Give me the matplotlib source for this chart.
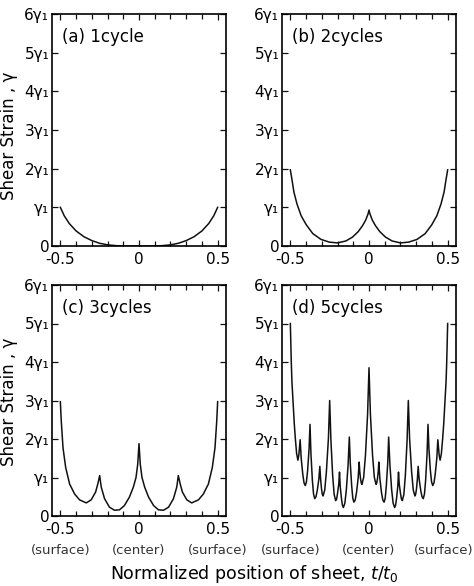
import numpy as np
import matplotlib
matplotlib.use('Agg')
import matplotlib.pyplot as plt
from matplotlib.ticker import FixedLocator, MultipleLocator

# ---- data (t/t0, shear strain in units of gamma_1) ----
t_a = [-0.500, -0.475, -0.443, -0.400, -0.350, -0.300, -0.250, -0.200, -0.150, -0.100, -0.050,
       0.000, 0.050, 0.100, 0.150, 0.200, 0.250, 0.300, 0.350, 0.400, 0.443, 0.475, 0.500]
g_a = [1.00, 0.78, 0.58, 0.39, 0.24, 0.14, 0.07, 0.03, 0.01, 0.00, 0.00,
       0.00, 0.00, 0.00, 0.01, 0.03, 0.07, 0.14, 0.24, 0.39, 0.58, 0.78, 1.00]

t_b = [-0.500, -0.489, -0.477, -0.458, -0.431, -0.399, -0.357, -0.305, -0.252, -0.200, -0.147,
       -0.105, -0.069, -0.042, -0.021, -0.006, 0.000,
       0.006, 0.021, 0.042, 0.069, 0.105, 0.147, 0.200, 0.252, 0.305, 0.357, 0.399,
       0.431, 0.458, 0.477, 0.489, 0.500]
g_b = [1.97, 1.70, 1.39, 1.09, 0.78, 0.55, 0.32, 0.17, 0.10, 0.08, 0.13,
       0.23, 0.37, 0.52, 0.67, 0.83, 0.93,
       0.83, 0.67, 0.52, 0.37, 0.23, 0.13, 0.08, 0.10, 0.17, 0.32, 0.55,
       0.78, 1.09, 1.39, 1.70, 1.97]

t_c = [-0.500, -0.494, -0.483, -0.466, -0.441, -0.409, -0.378, -0.335, -0.304, -0.276, -0.262,
       -0.250, -0.240, -0.219, -0.188, -0.156, -0.124, -0.093, -0.061, -0.036, -0.019, -0.008,
       0.000,
       0.008, 0.019, 0.036, 0.061, 0.093, 0.124, 0.156, 0.188, 0.219, 0.240, 0.250,
       0.262, 0.276, 0.304, 0.335, 0.378, 0.409, 0.441, 0.466, 0.483, 0.494, 0.500]
g_c = [2.97, 2.46, 1.77, 1.26, 0.83, 0.57, 0.42, 0.34, 0.42, 0.62, 0.83,
       1.05, 0.75, 0.45, 0.23, 0.15, 0.16, 0.27, 0.49, 0.75, 1.00, 1.35,
       1.88,
       1.35, 1.00, 0.75, 0.49, 0.27, 0.16, 0.15, 0.23, 0.45, 0.75, 1.05,
       0.83, 0.62, 0.42, 0.34, 0.42, 0.57, 0.83, 1.26, 1.77, 2.46, 2.97]

t_d = [-0.500, -0.494, -0.490, -0.483, -0.475, -0.468, -0.460, -0.452, -0.446, -0.4375,
       -0.431, -0.421, -0.413, -0.405, -0.3975, -0.390, -0.381, -0.375, -0.369, -0.360,
       -0.3525, -0.345, -0.337, -0.329, -0.319, -0.3125, -0.308, -0.302, -0.297, -0.292,
       -0.2815, -0.271, -0.258, -0.250, -0.242, -0.231, -0.2215, -0.212, -0.206, -0.200,
       -0.192, -0.1875, -0.183, -0.175, -0.169, -0.163, -0.1535, -0.144, -0.133, -0.125,
       -0.119, -0.110, -0.103, -0.096, -0.0875, -0.079, -0.069, -0.0625, -0.059, -0.054,
       -0.049, -0.045, -0.034, -0.0225, -0.009, 0.000,
       0.009, 0.0225, 0.034, 0.045, 0.049, 0.054, 0.059, 0.0625, 0.069, 0.079,
       0.0875, 0.096, 0.103, 0.110, 0.119, 0.125, 0.133, 0.144, 0.1535, 0.163,
       0.169, 0.175, 0.183, 0.1875, 0.192, 0.200, 0.206, 0.212, 0.2215, 0.231,
       0.242, 0.250, 0.258, 0.271, 0.2815, 0.292, 0.297, 0.302, 0.308, 0.3125,
       0.319, 0.329, 0.337, 0.345, 0.3525, 0.360, 0.369, 0.375, 0.381, 0.390,
       0.3975, 0.405, 0.413, 0.421, 0.431, 0.4375, 0.446, 0.452, 0.460, 0.468,
       0.475, 0.483, 0.490, 0.494, 0.500]
g_d = [5.00, 4.00, 3.50, 3.00, 2.40, 2.00, 1.62, 1.45, 1.58, 1.98,
       1.50, 1.09, 0.86, 0.79, 0.89, 1.19, 1.74, 2.38, 1.61, 0.93,
       0.57, 0.45, 0.50, 0.66, 0.95, 1.29, 0.98, 0.71, 0.57, 0.52,
       0.67, 1.14, 2.01, 3.00, 1.96, 1.05, 0.56, 0.40, 0.44, 0.59,
       0.84, 1.14, 0.77, 0.45, 0.28, 0.22, 0.33, 0.68, 1.32, 2.05,
       1.37, 0.78, 0.46, 0.36, 0.42, 0.62, 0.98, 1.40, 1.17, 0.97,
       0.855, 0.82, 1.00, 1.58, 2.64, 3.85,
       2.64, 1.58, 1.00, 0.82, 0.855, 0.97, 1.17, 1.40, 0.98, 0.62,
       0.42, 0.36, 0.46, 0.78, 1.37, 2.05, 1.32, 0.68, 0.33, 0.22,
       0.28, 0.45, 0.77, 1.14, 0.84, 0.59, 0.44, 0.40, 0.56, 1.05,
       1.96, 3.00, 2.01, 1.14, 0.67, 0.52, 0.57, 0.71, 0.98, 1.29,
       0.95, 0.66, 0.50, 0.45, 0.57, 0.93, 1.61, 2.38, 1.74, 1.19,
       0.89, 0.79, 0.86, 1.09, 1.50, 1.98, 1.58, 1.45, 1.62, 2.00,
       2.40, 3.00, 3.50, 4.00, 5.00]

panel_titles = ['(a) 1cycle', '(b) 2cycles', '(c) 3cycles', '(d) 5cycles']
x_ticks = [-0.5, 0, 0.5]
x_tick_labels = ['-0.5', '0', '0.5']
y_ticks = [0, 1, 2, 3, 4, 5, 6]
y_tick_labels = ['0', 'γ₁', '2γ₁', '3γ₁', '4γ₁', '5γ₁', '6γ₁']
position_names = ['(surface)', '(center)', '(surface)']

plt.rcParams['font.family'] = ['DejaVu Sans']
plt.rcParams['axes.unicode_minus'] = False

W, H = 474, 586
fig = plt.figure(figsize=(W / 100, H / 100), dpi=100)

# panel boxes in pixels: left, top, right, bottom
boxes = [(52, 14, 226, 246), (282, 14, 456, 246), (52, 285, 226, 516), (282, 285, 456, 516)]
curves = [(t_a, g_a), (t_b, g_b), (t_c, g_c), (t_d, g_d)]

for i, ((l, t, r, b), (x, y)) in enumerate(zip(boxes, curves)):
    ax = fig.add_axes([l / W, 1 - b / H, (r - l) / W, (b - t) / H])
    ax.plot(x, y, color='#111111', lw=1.1)
    ax.set_xlim(-0.553, 0.553)
    ax.set_ylim(0, 6)

    ax.xaxis.set_major_locator(FixedLocator(x_ticks))
    ax.set_xticklabels(x_tick_labels)
    ax.xaxis.set_minor_locator(MultipleLocator(0.1))
    ax.set_yticks(y_ticks)
    ax.set_yticklabels(y_tick_labels)

    ax.tick_params(which='both', direction='in', top=True, right=True, width=0.9, color='#111111')
    ax.tick_params(which='major', length=4.5)
    ax.tick_params(which='minor', length=3.8)
    ax.tick_params(axis='x', labelsize=11, pad=4.5)
    ax.tick_params(axis='y', labelsize=11, pad=2)
    for sp in ax.spines.values():
        sp.set_linewidth(1.2)

    ax.text(0.059, 0.90, panel_titles[i], transform=ax.transAxes,
            ha='left', va='center', fontsize=12)

    if i >= 2:
        for j, (xp, name) in enumerate(zip(x_ticks, position_names)):
            # last label of the right panel is pulled in a little so it stays on the figure
            dx = -3 if (i == 3 and j == 2) else 0
            ax.annotate(name, xy=(xp, 0), xycoords=('data', 'axes fraction'),
                        xytext=(dx, -24.5), textcoords='offset points',
                        ha='center', va='center', fontsize=9.5, color='#333333')

# y labels on the left column
fig.text(9 / W, 1 - 136 / H, 'Shear Strain , γ', rotation=90, ha='center', va='center', fontsize=12)
fig.text(9 / W, 1 - 402 / H, 'Shear Strain , γ', rotation=90, ha='center', va='center', fontsize=12)

fig.text(254 / W, 1 - 574 / H, r'Normalized position of sheet, $t/t_0$',
         ha='center', va='center', fontsize=12.5)

fig.savefig('out.png', dpi=100)
